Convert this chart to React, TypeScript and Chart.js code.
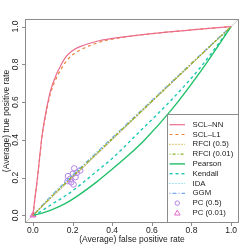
import React, { useEffect, useRef } from "react";
import { Chart, registerables } from "chart.js";

Chart.register(...registerables);

// ---------- data ----------
const sclFpr = [0, 0.01, 0.022, 0.035, 0.047, 0.0635, 0.0885, 0.1185, 0.1435, 0.1635, 0.197, 0.2385, 0.3385, 0.4385, 0.6, 0.8, 1];
const sclNnTpr = [0, 0.09, 0.19, 0.32, 0.43, 0.535, 0.659, 0.747, 0.8, 0.836, 0.871, 0.894, 0.926, 0.943, 0.963, 0.982, 1];
const sclL1Tpr = [0, 0.09, 0.19, 0.315, 0.425, 0.525, 0.645, 0.728, 0.777, 0.81, 0.848, 0.876, 0.918, 0.94, 0.962, 0.982, 1];

const diagFpr = [0, 0.1, 0.3, 0.5, 0.7, 0.9, 1];
const rfci05Tpr = [0, 0.104, 0.304, 0.504, 0.703, 0.902, 1];
const rfci001Tpr = [0, 0.106, 0.306, 0.505, 0.704, 0.902, 1];
const idaTpr = [0, 0.11, 0.31, 0.508, 0.706, 0.903, 1];
const ggmTpr = [0, 0.112, 0.312, 0.51, 0.707, 0.904, 1];

const pearsonFpr = [0, 0.05, 0.1, 0.155, 0.22, 0.322, 0.4, 0.4885, 0.5635, 0.7, 0.85, 1];
const pearsonTpr = [0, 0.014, 0.032, 0.058, 0.1, 0.178, 0.245, 0.325, 0.4, 0.56, 0.768, 1];

const kendallFpr = [0, 0.05, 0.1, 0.17, 0.2385, 0.32, 0.4, 0.5385, 0.7, 0.85, 1];
const kendallTpr = [0, 0.028, 0.062, 0.108, 0.162, 0.232, 0.302, 0.444, 0.613, 0.79, 1];

const pc05Fpr = [0.177, 0.175, 0.202, 0.2085, 0.215, 0.222, 0.2385, 0.1935, 0.205, 0.1885];
const pc05Tpr = [0.208, 0.182, 0.221, 0.249, 0.203, 0.226, 0.238, 0.176, 0.164, 0.194];

const pc001Fpr = [0, 0.002];
const pc001Tpr = [0, 0.004];

const tickValues = [0, 0.2, 0.4, 0.6, 0.8, 1.0];
const tickLabels = ["0.0", "0.2", "0.4", "0.6", "0.8", "1.0"];
const xTitle = "(Average) false positive rate";
const yTitle = "(Average) true positive rate";

const FONT = "'Liberation Sans', Arial, Helvetica, sans-serif";

type Series = {
  label: string;
  xs: number[];
  ys: number[];
  color: string;
  dash: number[];
  width: number;
  kind: "line" | "point";
  shape?: "circle" | "triangle";
};

const series: Series[] = [
  { label: "SCL\u2013NN", xs: sclFpr, ys: sclNnTpr, color: "#EC6C8C", dash: [], width: 1.2, kind: "line" },
  { label: "SCL\u2013L1", xs: sclFpr, ys: sclL1Tpr, color: "#E8843C", dash: [3, 3], width: 1.2, kind: "line" },
  { label: "RFCI (0.5)", xs: diagFpr, ys: rfci05Tpr, color: "#C8A418", dash: [1, 2], width: 1.2, kind: "line" },
  { label: "RFCI (0.01)", xs: diagFpr, ys: rfci001Tpr, color: "#8CB41E", dash: [1, 2, 3, 2], width: 1.2, kind: "line" },
  { label: "Pearson", xs: pearsonFpr, ys: pearsonTpr, color: "#22C06A", dash: [], width: 1.4, kind: "line" },
  { label: "Kendall", xs: kendallFpr, ys: kendallTpr, color: "#1CC8B4", dash: [3, 3], width: 1.4, kind: "line" },
  { label: "IDA", xs: diagFpr, ys: idaTpr, color: "#4CC8E6", dash: [1, 2], width: 1.2, kind: "line" },
  { label: "GGM", xs: diagFpr, ys: ggmTpr, color: "#7AA8F0", dash: [1, 2, 4, 2], width: 1.2, kind: "line" },
  { label: "PC (0.5)", xs: pc05Fpr, ys: pc05Tpr, color: "#B482E6", dash: [], width: 1, kind: "point", shape: "circle" },
  { label: "PC (0.01)", xs: pc001Fpr, ys: pc001Tpr, color: "#E66ACB", dash: [], width: 1, kind: "point", shape: "triangle" },
];

const decor = {
  id: "rDecor",
  beforeDatasetsDraw(chart: any) {
    const { ctx, chartArea: a } = chart;
    ctx.save();
    ctx.strokeStyle = "#C8C8C8";
    ctx.lineWidth = 1;
    ctx.beginPath();
    ctx.moveTo(a.left, a.bottom);
    ctx.lineTo(a.right, a.top);
    ctx.stroke();
    ctx.restore();
  },
  afterDraw(chart: any) {
    const { ctx, chartArea: a, scales } = chart;
    const xs = scales.x;
    const ys = scales.y;
    ctx.save();
    // box
    ctx.strokeStyle = "#8C8C8C";
    ctx.lineWidth = 1;
    ctx.setLineDash([]);
    ctx.strokeRect(a.left + 0.5, a.top + 0.5, a.right - a.left - 1, a.bottom - a.top - 1);

    // ticks
    ctx.beginPath();
    tickValues.forEach((v) => {
      const px = Math.round(xs.getPixelForValue(v)) + 0.5;
      ctx.moveTo(px, a.bottom);
      ctx.lineTo(px, a.bottom + 3);
      const py = Math.round(ys.getPixelForValue(v)) + 0.5;
      ctx.moveTo(a.left, py);
      ctx.lineTo(a.left - 3, py);
    });
    ctx.stroke();

    ctx.fillStyle = "#222";
    ctx.font = `8.5px ${FONT}`;
    ctx.textAlign = "center";
    ctx.textBaseline = "middle";
    tickValues.forEach((v, i) => {
      ctx.fillText(tickLabels[i], xs.getPixelForValue(v), a.bottom + 7.5);
      ctx.save();
      ctx.translate(a.left - 9.5, ys.getPixelForValue(v));
      ctx.rotate(-Math.PI / 2);
      ctx.fillText(tickLabels[i], 0, 0);
      ctx.restore();
    });

    // titles
    ctx.font = `8.5px ${FONT}`;
    ctx.fillText(xTitle, (a.left + a.right) / 2, a.bottom + 16.5);
    ctx.save();
    ctx.translate(6.5, (a.top + a.bottom) / 2);
    ctx.rotate(-Math.PI / 2);
    ctx.fillText(yTitle, 0, 0);
    ctx.restore();

    // legend
    const lw = 72;
    const lh = 109;
    const lx = a.right - lw;
    const ly = a.bottom - lh;
    ctx.strokeStyle = "#8C8C8C";
    ctx.lineWidth = 1;
    ctx.strokeRect(Math.round(lx) + 0.5, Math.round(ly) + 0.5, lw - 1, lh - 1);
    ctx.font = `7.8px ${FONT}`;
    ctx.textAlign = "left";
    series.forEach((s, i) => {
      const cy = ly + 10.7 + i * 9.8;
      ctx.strokeStyle = s.color;
      ctx.lineWidth = s.width;
      if (s.kind === "line") {
        ctx.setLineDash(s.dash);
        ctx.beginPath();
        ctx.moveTo(lx + 2.5, cy);
        ctx.lineTo(lx + 18, cy);
        ctx.stroke();
        ctx.setLineDash([]);
      } else if (s.shape === "circle") {
        ctx.beginPath();
        ctx.arc(lx + 10.3, cy, 2.2, 0, Math.PI * 2);
        ctx.stroke();
      } else {
        const r = 2.8;
        ctx.beginPath();
        ctx.moveTo(lx + 10.3, cy - r);
        ctx.lineTo(lx + 10.3 + r, cy + r * 0.75);
        ctx.lineTo(lx + 10.3 - r, cy + r * 0.75);
        ctx.closePath();
        ctx.stroke();
      }
      ctx.fillStyle = "#222";
      ctx.fillText(s.label, lx + 25.5, cy);
    });
    ctx.restore();
  },
};

export default function App() {
  const ref = useRef<HTMLCanvasElement | null>(null);
  useEffect(() => {
    if (!ref.current) return;
    const datasets = series.map((s) => ({
      label: s.label,
      data: s.xs.map((x, i) => ({ x, y: s.ys[i] })),
      showLine: s.kind === "line",
      borderColor: s.color,
      backgroundColor: "rgba(0,0,0,0)",
      borderWidth: s.width,
      borderDash: s.dash,
      cubicInterpolationMode: "monotone" as const,
      pointRadius: s.kind === "point" ? (s.shape === "triangle" ? 3.2 : 2.8) : 0,
      pointStyle: s.shape === "triangle" ? "triangle" : "circle",
      pointBorderColor: s.color,
      pointBackgroundColor: "rgba(0,0,0,0)",
      pointBorderWidth: 1,
    }));
    const chart = new Chart(ref.current, {
      type: "scatter",
      data: { datasets: datasets as any },
      options: {
        animation: false,
        responsive: false,
        maintainAspectRatio: false,
        layout: { padding: { left: 25, top: 19, right: 10, bottom: 26 } },
        scales: {
          x: { type: "linear", min: -0.04, max: 1.04, display: false },
          y: { type: "linear", min: -0.04, max: 1.04, display: false },
        },
        plugins: { legend: { display: false }, tooltip: { enabled: false } },
        events: [],
      },
      plugins: [decor],
    });
    return () => chart.destroy();
  }, []);
  return (
    <div style={{ position: "absolute", left: 0, top: 0, width: 249, height: 249, background: "#fff" }}>
      <canvas ref={ref} width={249} height={249} style={{ display: "block", width: 249, height: 249 }} />
    </div>
  );
}
